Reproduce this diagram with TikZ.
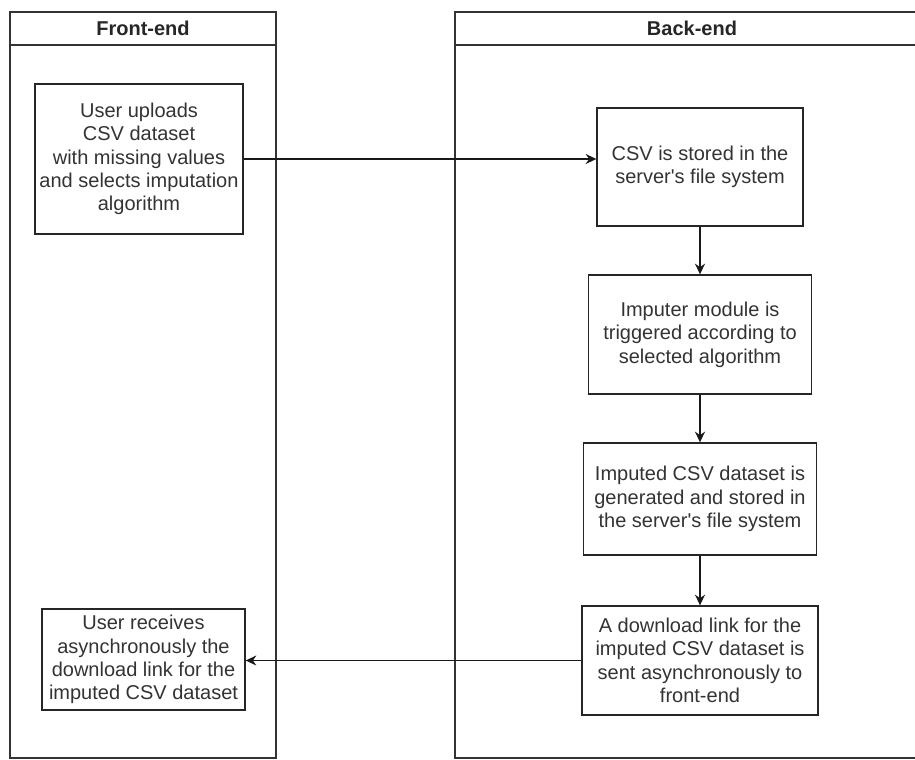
\documentclass[tikz,border=0pt]{standalone}
\usepackage{fontspec}
\setmainfont{Liberation Sans}
\usetikzlibrary{arrows.meta}
\tikzset{
  lane/.style={draw=black!80, line width=1pt},
  lanehead/.style={font=\fontsize{15}{17.5}\selectfont\bfseries, text=black!85},
  procbox/.style={draw=black!85, line width=1pt, align=center, inner sep=2pt, text=black!80, font=\fontsize{15}{17.5}\selectfont},
  flow/.style={draw=black!90, line width=1pt, -{Stealth[length=8pt,width=7.5pt]}},
}
\begin{document}
\begin{tikzpicture}[x=0.75pt,y=0.75pt,yscale=-1,xscale=1]
        \useasboundingbox (0,0) rectangle (915,760);
        \clip (0,0) rectangle (915,760);
        %Swimlane: Front-end
        \draw[lane] (10,12) rectangle (276,758);
        \draw[lane] (10,45) -- (276,45);
        \node[lanehead] (fronthead) at (143,28.5) {Front-end};
        %Swimlane: Back-end
        \draw[lane] (455,12) rectangle (929,758);
        \draw[lane] (455,45) -- (929,45);
        \node[lanehead] (backhead) at (692,28.5) {Back-end};
        % Front-end steps
        \node[procbox, minimum width=156pt, minimum height=112.5pt] (upload) at (139,159) {User uploads\\CSV dataset\\with missing values\\and selects imputation\\algorithm};
        \node[procbox, minimum width=152.25pt, minimum height=75.75pt] (receive) at (143.5,659.5) {User receives\\asynchronously the\\download link for the\\imputed CSV dataset};
        % Back-end steps
        \node[procbox, minimum width=154.5pt, minimum height=88.5pt] (stored) at (700,167) {CSV is stored in the\\server\textquotesingle s file system};
        \node[procbox, minimum width=167.25pt, minimum height=89.25pt] (imputer) at (700,334.5) {Imputer module is\\triggered according to\\selected algorithm};
        \node[procbox, minimum width=174.75pt, minimum height=84pt] (imputed) at (700,499) {Imputed CSV dataset is\\generated and stored in\\the server\textquotesingle s file system};
        \node[procbox, minimum width=177pt, minimum height=81.75pt] (link) at (700,660.5) {A download link for the\\imputed CSV dataset is\\sent asynchronously to\\front-end};
        % Connectors
        \draw[flow] (upload.east) -- (upload.east -| stored.west);
        \draw[flow] (stored) -- (imputer);
        \draw[flow] (imputer) -- (imputed);
        \draw[flow] (imputed) -- (link);
        \draw[flow] (link.west) -- (link.west -| receive.east);
\end{tikzpicture}
\end{document}
